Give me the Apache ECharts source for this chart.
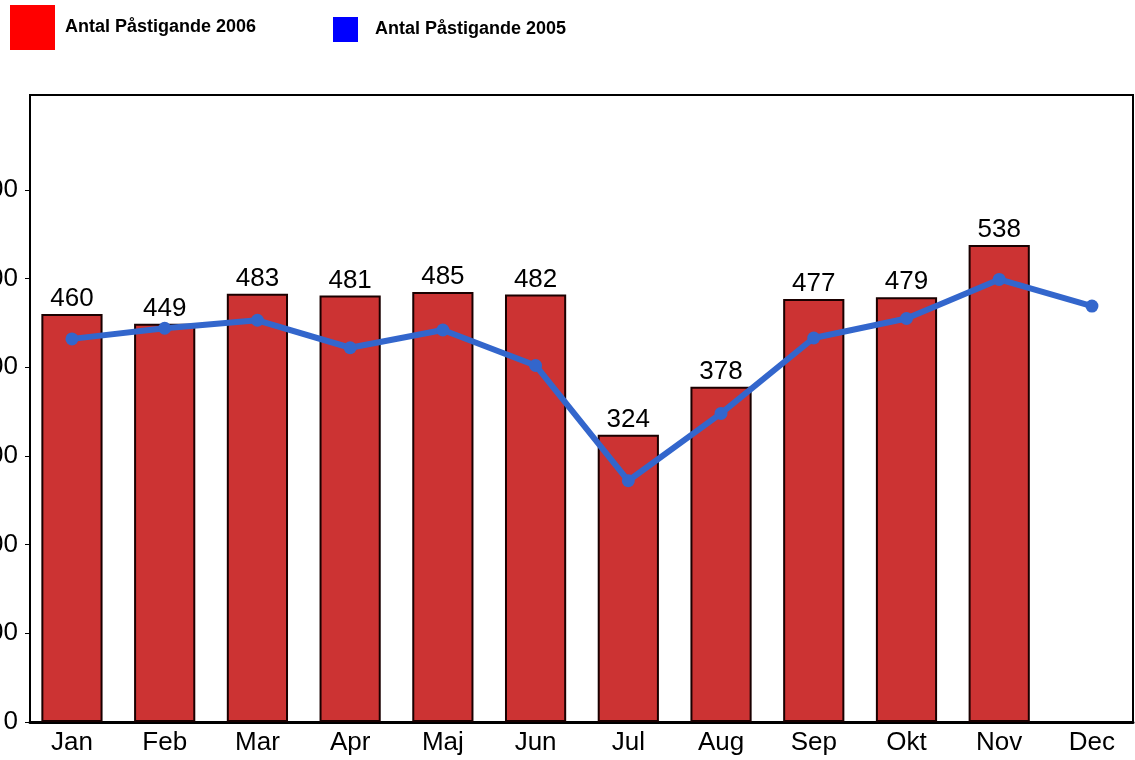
<!DOCTYPE html>
<html>
<head>
<meta charset="utf-8">
<script src="https://cdn.jsdelivr.net/npm/echarts@6/dist/echarts.min.js"></script>
<style>html,body{margin:0;padding:0;background:#fff}#c{width:1135px;height:760px}</style>
</head>
<body>
<div id="c"></div>
<script>
const categories = ['Jan','Feb','Mar','Apr','Maj','Jun','Jul','Aug','Sep','Okt','Nov','Dec'];
const values2006 = [460, 449, 483, 481, 485, 482, 324, 378, 477, 479, 538, null];
const values2005 = [432, 444, 453, 422, 442, 402, 272, 348, 433, 455, 499, 469];
const yTicks = [0, 100, 200, 300, 400, 500, 600];
const name2006 = 'Antal Påstigande 2006';
const name2005 = 'Antal Påstigande 2005';

const chart = echarts.init(document.getElementById('c'), null, {renderer: 'canvas'});
const font = 'Liberation Sans, Arial, sans-serif';
chart.setOption({
  animation: false,
  backgroundColor: '#ffffff',
  textStyle: {fontFamily: font},
  legend: [
    {
      data: [{name: name2006, itemStyle: {color: '#ff0000', borderWidth: 0}}],
      left: 10, top: 5, padding: 0,
      icon: 'rect', itemWidth: 45, itemHeight: 45,
      textStyle: {fontSize: 18, fontWeight: 'bold', color: '#000', fontFamily: font, padding: [0,0,0,5]},
      selectedMode: false
    },
    {
      data: [{name: name2005, itemStyle: {color: '#0000ff'}, lineStyle: {opacity: 0}}],
      left: 333, top: 17, padding: 0,
      icon: 'rect', itemWidth: 25, itemHeight: 25,
      textStyle: {fontSize: 18, fontWeight: 'bold', color: '#000', fontFamily: font, padding: [0,0,0,12]},
      selectedMode: false
    }
  ],
  grid: [
    {
      left: 30, top: 95, right: 2, bottom: 38,
      outerBoundsMode: 'none', containLabel: false,
      show: true, borderColor: '#000', borderWidth: 2, backgroundColor: '#fff', z: 0
    },
    {
      left: 25.6, top: 95, right: -3.3, bottom: 38,
      outerBoundsMode: 'none', containLabel: false,
      show: false
    }
  ],
  xAxis: [
    {
      type: 'category', gridIndex: 0, data: categories,
      axisLine: {show: true, lineStyle: {color: '#000', width: 3}},
      axisTick: {show: false}, axisLabel: {show: false}
    },
    {
      type: 'category', gridIndex: 1, data: categories,
      axisLine: {show: false}, axisTick: {show: false},
      axisLabel: {fontSize: 26, color: '#000', fontFamily: font, margin: 8}
    }
  ],
  yAxis: [
    {
      type: 'value', gridIndex: 0,
      min: 0, max: 707, interval: 100,
      axisLine: {show: true, lineStyle: {color: '#000', width: 2}},
      axisTick: {show: true, length: 5, customValues: yTicks, lineStyle: {color: '#000', width: 1}},
      axisLabel: {fontSize: 26, color: '#000', fontFamily: font, margin: 12, customValues: yTicks},
      splitLine: {show: false}
    },
    {
      type: 'value', gridIndex: 1,
      min: 0, max: 707, interval: 100,
      show: false, splitLine: {show: false}
    }
  ],
  series: [
    {
      name: name2006,
      type: 'bar', xAxisIndex: 1, yAxisIndex: 1,
      data: values2006,
      barWidth: '66%',
      itemStyle: {color: '#cc3333', borderColor: '#1a0000', borderWidth: 2},
      label: {show: true, position: 'top', distance: 2, fontSize: 26, color: '#000', fontFamily: font},
      z: 2
    },
    {
      name: name2005,
      type: 'line', xAxisIndex: 1, yAxisIndex: 1,
      data: values2005,
      symbol: 'circle', symbolSize: 13,
      lineStyle: {color: '#3366cc', width: 6},
      itemStyle: {color: '#3366cc'},
      z: 3
    }
  ]
});
</script>
</body>
</html>
